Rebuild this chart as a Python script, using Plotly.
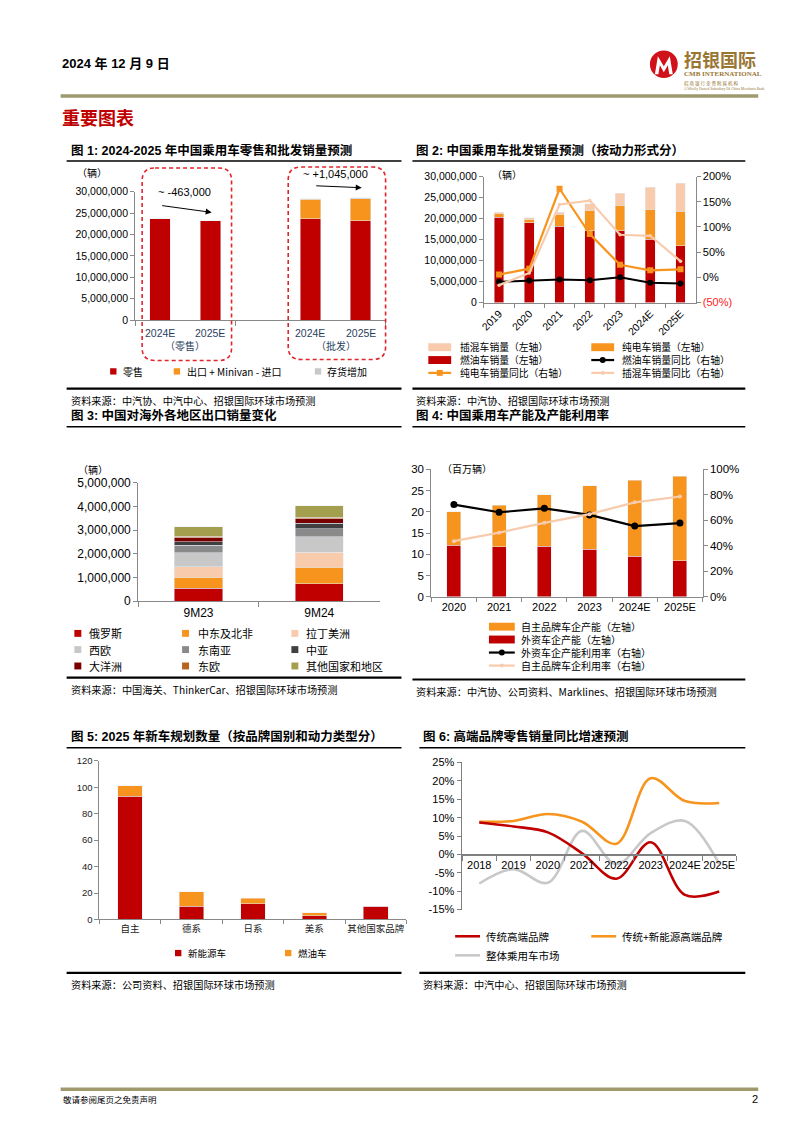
import plotly.graph_objects as go

# ---------------- DATA ----------------
# Chart 1
c1_categories = ["2024E", "2025E"]
c1_groups = ["（零售）", "（批发）"]
c1_retail = [23630000, 23167000]
c1_export_net = [4630000, 5150000]
c1_inventory = [30000, 300000]

# Chart 2
c2_years = ["2019", "2020", "2021", "2022", "2023", "2024E", "2025E"]
c2_ice = [20370000, 18960000, 18170000, 17080000, 17080000, 15120000, 13550000]
c2_bev = [940000, 860000, 2820000, 4930000, 6100000, 7130000, 8150000]
c2_phev = [240000, 390000, 550000, 1500000, 2900000, 5150000, 6700000]
c2_ice_yoy = [-0.089, -0.063, -0.043, -0.056, 0.003, -0.108, -0.121]
c2_bev_yoy = [0.055, 0.172, 1.758, 0.858, 0.251, 0.140, 0.159]
c2_phev_yoy = [-0.154, 0.087, 1.445, 1.523, 0.845, 0.825, 0.322]

# Chart 3
c3_periods = ["9M23", "9M24"]
c3_regions = ["俄罗斯", "中东及北非", "拉丁美洲", "西欧", "东南亚", "中亚", "大洋洲", "东欧", "其他国家和地区"]
c3_russia = [540000, 740000]
c3_mena = [460000, 690000]
c3_latam = [460000, 630000]
c3_weu = [580000, 650000]
c3_sea = [320000, 350000]
c3_casia = [140000, 230000]
c3_oceania = [180000, 180000]
c3_eeu = [50000, 70000]
c3_others = [420000, 490000]

# Chart 4
c4_years = ["2020", "2021", "2022", "2023", "2024E", "2025E"]
c4_foreign_cap = [12.17, 11.78, 11.94, 11.24, 9.53, 8.45]
c4_domestic_cap = [7.91, 9.85, 12.09, 14.96, 17.91, 20.00]
c4_foreign_util = [0.724, 0.664, 0.695, 0.643, 0.556, 0.579]
c4_domestic_util = [0.437, 0.504, 0.581, 0.649, 0.742, 0.788]

# Chart 5
c5_brands = ["自主", "德系", "日系", "美系", "其他国家品牌"]
c5_nev = [93, 10, 12, 3, 10]
c5_ice = [8, 11, 4, 2, 0]

# Chart 6
c6_years = ["2018", "2019", "2020", "2021", "2022", "2023", "2024E", "2025E"]
c6_trad = [0.087, 0.076, 0.060, 0.003, -0.066, 0.033, -0.110, -0.101]
c6_trad_nev = [0.089, 0.091, 0.110, 0.089, 0.029, 0.207, 0.145, 0.140]
c6_market = [-0.079, -0.040, -0.077, 0.064, -0.026, 0.058, 0.091, -0.026]

# ---------------- STYLE ----------------
W, H = 794, 1123
def px(x): return x / W
def py(y): return 1 - y / H

SANS = "Liberation Sans, Arial, Noto Sans CJK SC, sans-serif"
CJK = "Noto Sans CJK SC, Liberation Sans, sans-serif"
RED = "#C00000"
ORANGE = "#F7941D"
PEACH = "#F8CBAD"
LGRAY = "#C8C8C8"
AXC = "#898989"
OLIVE_LINE = "#9E9A6E"

annotations = []
shapes = []

def text(t, x, y, size=10, color="#000000", bold=False, xanchor="left", yanchor="middle", family=SANS):
    if bold:
        t = "<b>" + t + "</b>"
    annotations.append(dict(text=t, x=px(x), y=py(y), xref="paper", yref="paper", showarrow=False,
                            xanchor=xanchor, yanchor=yanchor, borderpad=0,
                            font=dict(size=size, color=color, family=family)))

def hline(x0, x1, y, color="#000000", width=1.5):
    shapes.append(dict(type="line", xref="paper", yref="paper", x0=px(x0), x1=px(x1), y0=py(y), y1=py(y),
                       line=dict(color=color, width=width)))

def rect(x0, y0, x1, y1, color):
    shapes.append(dict(type="rect", xref="paper", yref="paper", x0=px(x0), x1=px(x1), y0=py(y0), y1=py(y1),
                       line=dict(width=0), fillcolor=color))

def circle(cx, cy, r, color):
    shapes.append(dict(type="circle", xref="paper", yref="paper", x0=px(cx - r), x1=px(cx + r),
                       y0=py(cy + r), y1=py(cy - r), line=dict(width=0), fillcolor=color))

def sq_marker(cx, cy, r, color):
    rect(cx - r, cy - r, cx + r, cy + r, color)

def rounded_box(x0, y0, x1, y1, r, color):
    def P(x, y): return f"{px(x):.5f},{py(y):.5f}"
    path = (f"M {P(x0 + r, y0)} L {P(x1 - r, y0)} Q {P(x1, y0)} {P(x1, y0 + r)} "
            f"L {P(x1, y1 - r)} Q {P(x1, y1)} {P(x1 - r, y1)} L {P(x0 + r, y1)} "
            f"Q {P(x0, y1)} {P(x0, y1 - r)} L {P(x0, y0 + r)} Q {P(x0, y0)} {P(x0 + r, y0)} Z")
    shapes.append(dict(type="path", xref="paper", yref="paper", path=path,
                       line=dict(color=color, width=1.6, dash="4px,3px")))

fig = go.Figure()

# ---------------- HEADER / FOOTER ----------------
text("2024 年 12 月 9 日", 56, 57, size=13, bold=True)
circle(663, 58, 14, "#D0121B")
shapes.append(dict(type="path", xref="paper", yref="paper", fillcolor="white", line=dict(width=0),
                   path=" ".join([("M" if i == 0 else "L") + f" {px(a):.5f},{py(b):.5f}" for i, (a, b) in enumerate(
                       [(654, 68), (657, 50), (663, 60), (669, 50), (672, 68), (668.5, 68), (667, 59), (663, 66), (659, 59), (657.5, 68)])]) + " Z"))
text("招银国际", 682, 53, size=18, color="#9A7634", bold=True, family=CJK)
text("CMB INTERNATIONAL", 682, 68, size=7, color="#9A7634", bold=True, family="Liberation Serif, serif")
text("招 商 银 行 全 资 附 属 机 构", 682, 77, size=4.5, color="#9A7634", family=CJK)
text("A Wholly Owned Subsidiary Of China Merchants Bank", 682, 83, size=3.6, color="#9A7634", family="Liberation Serif, serif")
hline(56, 758, 90, OLIVE_LINE, 3.5)
text("重要图表", 56, 111, size=18, color=RED, bold=True, family=CJK)

hline(56, 758, 1096, OLIVE_LINE, 3.5)
text("敬请参阅尾页之免责声明", 57, 1106, size=8.5, family=CJK)
text("2", 759, 1106, size=11, xanchor="right")

# ---------------- SECTION FRAMES ----------------
def section(title, x0, x1, ytitle, ybottom, source):
    text(title, x0 + 3, ytitle, size=12.5, bold=True)
    hline(x0, x1, ytitle + 11, "#000000", 1.5)
    hline(x0, x1, ybottom, "#000000", 2.2)
    text(source, x0 + 3, ybottom + 12, size=10.2, family=CJK)

section("图 1: 2024-2025 年中国乘用车零售和批发销量预测", 62, 399, 145, 386.5, "资料来源：中汽协、中汽中心、招银国际环球市场预测")
section("图 2: 中国乘用车批发销量预测（按动力形式分）", 410, 745, 145, 386.5, "资料来源：中汽协、招银国际环球市场预测")
section("图 3: 中国对海外各地区出口销量变化", 62, 399, 414, 679, "资料来源：中国海关、ThinkerCar、招银国际环球市场预测")
section("图 4: 中国乘用车产能及产能利用率", 410, 745, 414, 681, "资料来源：中汽协、公司资料、Marklines、招银国际环球市场预测")
section("图 5: 2025 年新车规划数量（按品牌国别和动力类型分）", 62, 399, 739, 978, "资料来源：公司资料、招银国际环球市场预测")
section("图 6: 高端品牌零售销量同比增速预测", 417, 745, 739, 978, "资料来源：中汽中心、招银国际环球市场预测")

def ax_common(size=10.5, color="#000000"):
    return dict(showgrid=False, zeroline=False, showline=True, linecolor=AXC, linewidth=1,
                ticks="outside", tickcolor=AXC, ticklen=4,
                tickfont=dict(family=SANS, size=size, color=color))

layout_axes = {}

# ---------------- CHART 1 ----------------
c1_pos = [[g * 3 + c + 1 for c in range(len(c1_categories))] for g in range(len(c1_groups))]
fig.add_trace(go.Bar(x=c1_pos[0] + c1_pos[1], y=c1_retail + c1_retail, marker_color=RED, width=0.41,
                     xaxis="x", yaxis="y", name="零售"))
fig.add_trace(go.Bar(x=c1_pos[1], y=c1_export_net, marker_color=ORANGE, width=0.41,
                     xaxis="x", yaxis="y", name="出口 + Minivan - 进口"))
fig.add_trace(go.Bar(x=c1_pos[1], y=c1_inventory, marker_color=LGRAY, width=0.41,
                     xaxis="x", yaxis="y", name="存货增加"))
layout_axes["xaxis"] = dict(ax_common(), domain=[px(131), px(383)], anchor="y", range=[0.5, 5.5],
                            tickvals=[0.5, 2.5, 5.5], ticktext=["", "", ""], ticklen=5)
layout_axes["yaxis"] = dict(ax_common(10.5), domain=[py(317), py(187)], anchor="x", range=[0, 30000000],
                            tickvals=[i * 5000000 for i in range(7)], tickformat=",d")
for g, grp in enumerate(c1_groups):
    for c, cat in enumerate(c1_categories):
        annotations.append(dict(text=cat, x=c1_pos[g][c], y=py(330), xref="x", yref="paper", showarrow=False,
                                font=dict(family=SANS, size=10.5), xanchor="center", yanchor="middle"))
    annotations.append(dict(text=grp, x=sum(c1_pos[g]) / 2, y=py(343), xref="x", yref="paper", showarrow=False,
                            font=dict(family=CJK, size=10), xanchor="center", yanchor="middle"))
text("（辆）", 88, 168, size=10, family=CJK, xanchor="center")
rounded_box(138, 163, 228, 358, 13, "#E3242B")
rounded_box(285, 162, 383, 357, 13, "#E3242B")
text("~ -463,000", 181, 187, size=11, xanchor="center")
text("~ +1,045,000", 333, 169, size=11, xanchor="center")
annotations.append(dict(x=px(208), y=py(208), xref="paper", yref="paper", ax=-51, ay=-7, axref="pixel", ayref="pixel",
                        showarrow=True, arrowhead=2, arrowsize=1.2, arrowwidth=1, arrowcolor="#000", text=""))
annotations.append(dict(x=px(359), y=py(183), xref="paper", yref="paper", ax=-47, ay=-2, axref="pixel", ayref="pixel",
                        showarrow=True, arrowhead=2, arrowsize=1.2, arrowwidth=1, arrowcolor="#000", text=""))
# legend 1
for (sx, tx, col, lab) in [(109, 118, RED, "零售"), (173, 182, ORANGE, "出口 + Minivan - 进口"), (315, 323, LGRAY, "存货增加")]:
    sq_marker(sx, 369, 3.2, col)
    text(lab, tx, 369, size=10, family=CJK)

# ---------------- CHART 2 ----------------
fig.add_trace(go.Bar(x=c2_years, y=c2_ice, marker_color=RED, width=0.32, xaxis="x2", yaxis="y2", name="燃油车销量"))
fig.add_trace(go.Bar(x=c2_years, y=c2_bev, marker_color=ORANGE, width=0.32, xaxis="x2", yaxis="y2", name="纯电车销量"))
fig.add_trace(go.Bar(x=c2_years, y=c2_phev, marker_color=PEACH, width=0.32, xaxis="x2", yaxis="y2", name="插混车销量"))
fig.add_trace(go.Scatter(x=c2_years, y=c2_ice_yoy, mode="lines+markers", line=dict(color="#000000", width=2),
                         marker=dict(symbol="circle", size=6, color="#000000"), xaxis="x2", yaxis="y3"))
fig.add_trace(go.Scatter(x=c2_years, y=c2_bev_yoy, mode="lines+markers", line=dict(color=ORANGE, width=2.2),
                         marker=dict(symbol="square", size=6, color=ORANGE), xaxis="x2", yaxis="y3"))
fig.add_trace(go.Scatter(x=c2_years, y=c2_phev_yoy, mode="lines+markers", line=dict(color=PEACH, width=2.2),
                         marker=dict(symbol="circle", size=3.5, color=PEACH), xaxis="x2", yaxis="y3"))
layout_axes["xaxis2"] = dict(ax_common(10.5), domain=[px(482), px(695)], anchor="y2", type="category",
                             range=[-0.5, 6.5], tickson="boundaries", tickangle=-45, ticklen=4)
layout_axes["yaxis2"] = dict(ax_common(10.5), domain=[py(299.3), py(171.7)], anchor="x2", range=[0, 30000000],
                             tickvals=[i * 5000000 for i in range(7)], tickformat=",d")
layout_axes["yaxis3"] = dict(ax_common(11), overlaying="y2", side="right", anchor="x2", range=[-0.5, 2.0],
                             tickvals=[-0.5, 0, 0.5, 1.0, 1.5, 2.0],
                             ticktext=["<span style='color:#FF2020'>(50%)</span>", "0%", "50%", "100%", "150%", "200%"])
text("（辆）", 505, 170, size=10, family=CJK, xanchor="center")
leg2 = [
    (426, 457, 344.5, "bar", PEACH, "插混车销量（左轴）"),
    (590, 620, 344.5, "bar", ORANGE, "纯电车销量（左轴）"),
    (426, 457, 357.5, "bar", RED, "燃油车销量（左轴）"),
    (590, 620, 357.5, "line_c", "#000000", "燃油车销量同比（右轴）"),
    (426, 457, 370.5, "line_s", ORANGE, "纯电车销量同比（右轴）"),
    (590, 620, 370.5, "line_p", PEACH, "插混车销量同比（右轴）"),
]
for (sx, tx, yy, kind, col, lab) in leg2:
    if kind == "bar":
        rect(sx, yy - 4, sx + 23, yy + 4, col)
    else:
        hline(sx, sx + 23, yy, col, 2.2)
        if kind == "line_c":
            circle(sx + 11.5, yy, 3, col)
        elif kind == "line_s":
            sq_marker(sx + 11.5, yy, 3, col)
        else:
            circle(sx + 11.5, yy, 2, col)
    text(lab, tx, yy, size=9.8, family=CJK)

# ---------------- CHART 3 ----------------
c3_series = [c3_russia, c3_mena, c3_latam, c3_weu, c3_sea, c3_casia, c3_oceania, c3_eeu, c3_others]
c3_colors = [RED, ORANGE, PEACH, LGRAY, "#8A8A8A", "#404040", "#7A0000", "#B5651D", "#A39F4F"]
for name, vals, col in zip(c3_regions, c3_series, c3_colors):
    fig.add_trace(go.Bar(x=c3_periods, y=vals, marker_color=col, width=0.4, xaxis="x3", yaxis="y4", name=name))
layout_axes["xaxis3"] = dict(ax_common(12), domain=[px(134), px(377)], anchor="y4", type="category",
                             range=[-0.5, 1.5], tickson="boundaries", ticklen=5, tickangle=0)
layout_axes["yaxis4"] = dict(ax_common(12), domain=[py(601.7), py(481.7)], anchor="x3", range=[0, 5000000],
                             tickvals=[i * 1000000 for i in range(6)], tickformat=",d")
text("（辆）", 89, 468, size=10, family=CJK, xanchor="center")
leg3_cols = [(73.3, 83.3), (181.7, 193.3), (291.7, 301.7)]
leg3_rows = [634.3, 650.7, 667.3]
for i, (name, col) in enumerate(zip(c3_regions, c3_colors)):
    sx, tx = leg3_cols[i % 3]
    yy = leg3_rows[i // 3]
    sq_marker(sx, yy, 3.5, col)
    text(name, tx, yy, size=11, family=CJK)

# ---------------- CHART 4 ----------------
fig.add_trace(go.Bar(x=c4_years, y=c4_foreign_cap, marker_color=RED, width=0.31, xaxis="x4", yaxis="y5"))
fig.add_trace(go.Bar(x=c4_years, y=c4_domestic_cap, marker_color=ORANGE, width=0.31, xaxis="x4", yaxis="y5"))
fig.add_trace(go.Scatter(x=c4_years, y=c4_foreign_util, mode="lines+markers", line=dict(color="#000000", width=2.2),
                         marker=dict(symbol="circle", size=7, color="#000000"), xaxis="x4", yaxis="y6"))
fig.add_trace(go.Scatter(x=c4_years, y=c4_domestic_util, mode="lines+markers", line=dict(color=PEACH, width=2.2),
                         marker=dict(symbol="circle", size=4, color=PEACH), xaxis="x4", yaxis="y6"))
layout_axes["xaxis4"] = dict(ax_common(11), domain=[px(429), px(702)], anchor="y5", type="category",
                             range=[-0.5, 5.5], tickson="boundaries", ticklen=4, tickangle=0)
layout_axes["yaxis5"] = dict(ax_common(11.5), domain=[py(597.3), py(468.3)], anchor="x4", range=[0, 30],
                             tickvals=[0, 5, 10, 15, 20, 25, 30])
layout_axes["yaxis6"] = dict(ax_common(11.5), overlaying="y5", side="right", anchor="x4", range=[0, 1],
                             tickvals=[0, 0.2, 0.4, 0.6, 0.8, 1.0], ticktext=["0%", "20%", "40%", "60%", "80%", "100%"])
text("（百万辆）", 465, 467, size=10, family=CJK, xanchor="center")
leg4 = [
    (627.5, "bar", ORANGE, "自主品牌车企产能（左轴）"),
    (640.5, "bar", RED, "外资车企产能（左轴）"),
    (653.7, "line_c", "#000000", "外资车企产能利用率（右轴）"),
    (666.9, "line_p", PEACH, "自主品牌车企利用率（右轴）"),
]
for (yy, kind, col, lab) in leg4:
    if kind == "bar":
        rect(487, yy - 4, 513, yy + 4, col)
    else:
        hline(487, 513, yy, col, 2.2)
        circle(500, yy, 3 if kind == "line_c" else 2, col)
    text(lab, 518, yy, size=10, family=CJK)

# ---------------- CHART 5 ----------------
fig.add_trace(go.Bar(x=c5_brands, y=c5_nev, marker_color=RED, width=0.4, xaxis="x5", yaxis="y7", name="新能源车"))
fig.add_trace(go.Bar(x=c5_brands, y=c5_ice, marker_color=ORANGE, width=0.4, xaxis="x5", yaxis="y7", name="燃油车"))
layout_axes["xaxis5"] = dict(ax_common(10, "#222222"), domain=[px(95), px(404)], anchor="y7", type="category",
                             range=[-0.5, 4.5], tickson="boundaries", ticklen=4, tickangle=0)
layout_axes["xaxis5"]["tickfont"] = dict(family=CJK, size=9.5, color="#222222")
layout_axes["yaxis7"] = dict(ax_common(9.5, "#222222"), domain=[py(924), py(763.3)], anchor="x5", range=[0, 120],
                             tickvals=[0, 20, 40, 60, 80, 100, 120])
for (sx, tx, col, lab) in [(174.3, 183.3, RED, "新能源车"), (285, 294, ORANGE, "燃油车")]:
    sq_marker(sx, 958, 3.2, col)
    text(lab, tx, 958, size=9.5, family=CJK)

# ---------------- CHART 6 ----------------
for vals, col in [(c6_market, LGRAY), (c6_trad_nev, ORANGE), (c6_trad, RED)]:
    fig.add_trace(go.Scatter(x=c6_years, y=vals, mode="lines", line=dict(color=col, width=2.6, shape="spline", smoothing=1.0),
                             xaxis="x6", yaxis="y8"))
y6_bottom, y6_top = 914, 765
zero_py = y6_bottom - (0 - (-0.15)) / 0.40 * (y6_bottom - y6_top)
layout_axes["xaxis6"] = dict(ax_common(11), domain=[px(460), px(736)], anchor="free", position=py(zero_py),
                             type="category", range=[-0.5, 7.5], tickson="boundaries", ticklen=5, tickangle=0,
                             linecolor="#7F7F7F", linewidth=1.6, tickcolor="#7F7F7F")
layout_axes["yaxis8"] = dict(ax_common(11), domain=[py(y6_bottom), py(y6_top)], anchor="x6", range=[-0.15, 0.25],
                             tickvals=[-0.15, -0.10, -0.05, 0, 0.05, 0.10, 0.15, 0.20, 0.25],
                             ticktext=["-15%", "-10%", "-5%", "0%", "5%", "10%", "15%", "20%", "25%"],
                             linecolor="#7F7F7F", linewidth=1.6, tickcolor="#7F7F7F")
for (x0, yy, col, lab) in [(453, 941, RED, "传统高端品牌"), (590, 941, ORANGE, "传统+新能源高端品牌"), (453, 960.3, LGRAY, "整体乘用车市场")]:
    hline(x0, x0 + 25, yy, col, 2.6)
    text(lab, x0 + 30, yy, size=10.5, family=CJK)

fig.update_layout(width=W, height=H, margin=dict(l=0, r=0, t=0, b=0), paper_bgcolor="white", plot_bgcolor="white",
                  showlegend=False, barmode="stack", annotations=annotations, shapes=shapes,
                  font=dict(family=SANS), **layout_axes)

fig.write_html("out.html", config={"displayModeBar": False, "staticPlot": True},
               post_script="document.body.style.margin='0';document.body.style.overflow='hidden';")
